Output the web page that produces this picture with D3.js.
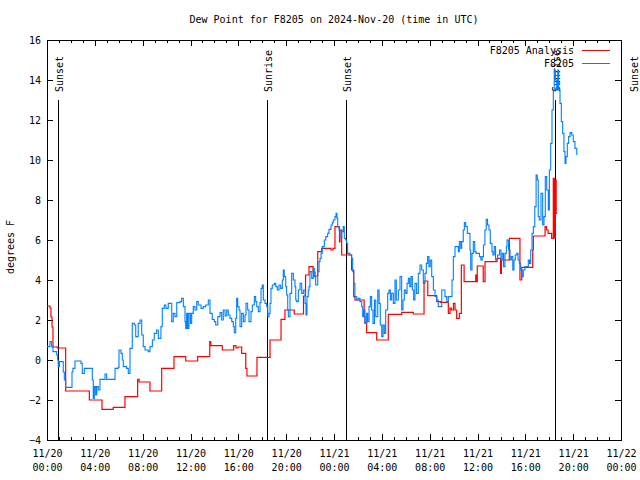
<!DOCTYPE html>
<html><head><meta charset="utf-8">
<script src="https://cdn.jsdelivr.net/npm/d3@7"></script>
<style>body{margin:0;background:#fff}svg{display:block}text{font-family:"DejaVu Sans Mono","Liberation Mono",monospace;font-size:10px;fill:#000}</style>
</head><body><svg id="c" width="640" height="480"></svg>
<script>
// ---- data (hours after 2024-11-20 00:00 UTC, dew point °F) ----
const titleText = "Dew Point for F8205 on 2024-Nov-20 (time in UTC)";
const yLabel = "degrees F";
const seriesNames = ["F8205 Analysis", "F8205"];
const yTicks = [-4, -2, 0, 2, 4, 6, 8, 10, 12, 14, 16];
const xTickHours = [0, 4, 8, 12, 16, 20, 24, 28, 32, 36, 40, 44, 48];
const sunNames = ["Sunset", "Sunrise", "Sunset", "Sunrise", "Sunset"];
const sunHours = [0.92, 18.4, 25.0, 42.48, 49.0];

const analysisHours = [0.00,0.25,0.33,0.42,0.50,0.86,1.56,3.54,4.60,5.54,6.52,7.58,7.70,8.61,9.59,10.62,11.60,12.60,13.61,13.69,14.66,15.61,15.80,15.97,16.28,16.62,16.72,17.56,18.65,19.57,19.90,20.68,21.45,21.62,21.91,22.25,22.41,22.64,22.97,23.75,23.92,24.08,24.46,24.50,24.64,25.47,25.65,25.75,26.52,26.59,26.73,27.57,28.54,29.66,30.63,31.53,31.84,32.59,32.90,33.56,33.70,33.82,33.99,34.12,34.26,34.48,34.65,34.88,35.85,35.91,35.98,36.48,36.63,37.63,37.93,38.00,38.66,39.55,39.70,40.62,40.67,41.65,41.77,41.90,42.20,42.34,42.42,42.51,42.58,42.66];
const analysisValues = [2.7,2.6,2.15,1.65,0.65,0.6,-1.55,-2.0,-2.47,-2.37,-1.83,-0.97,-1.1,-1.55,-0.42,0.17,-0.05,0.17,0.92,0.72,0.5,0.72,0.6,0.65,0.33,-0.42,-0.8,0.13,1.0,2.03,2.5,2.3,3.2,4.25,4.67,4.4,4.2,5.42,5.58,5.5,5.58,6.67,5.9,6.5,5.25,4.5,3.17,3.0,2.17,1.87,1.37,1.0,2.28,2.38,2.3,3.95,3.22,2.92,2.88,2.33,2.6,2.5,2.83,2.5,2.08,2.33,4.75,3.92,4.25,3.92,4.7,3.92,4.92,5.08,4.33,5.0,6.08,4.0,4.63,5.5,6.2,6.67,6.5,6.33,6.08,9.08,6.1,9.0,7.33,7.33];

const obsHours = [0.00,0.25,0.39,0.50,0.81,0.89,0.94,1.04,1.23,1.36,1.45,1.56,2.01,2.09,2.17,2.34,2.76,2.84,2.95,3.12,3.74,3.79,3.87,3.96,4.07,4.16,4.29,4.43,4.71,4.85,4.99,5.54,5.69,5.96,6.02,6.19,6.30,6.38,6.66,6.80,6.94,7.13,7.30,7.42,7.63,7.78,7.92,8.05,8.20,8.47,8.61,8.81,8.97,9.17,9.31,9.45,9.53,9.64,9.81,9.95,10.14,10.33,10.43,10.56,10.70,10.85,11.12,11.26,11.40,11.54,11.60,11.68,11.77,11.87,12.00,12.10,12.23,12.37,12.52,12.65,12.88,13.07,13.27,13.49,13.63,13.82,13.99,14.11,14.28,14.47,14.61,14.74,14.89,15.03,15.16,15.30,15.45,15.58,15.66,15.78,15.86,15.95,16.06,16.14,16.28,16.42,16.56,16.64,16.78,16.89,17.06,17.17,17.34,17.45,17.54,17.67,17.81,17.90,18.00,18.09,18.23,18.37,18.46,18.57,18.65,18.73,18.84,19.01,19.13,19.26,19.40,19.54,19.68,19.76,19.84,19.96,20.04,20.13,20.18,20.32,20.46,20.60,20.74,20.80,20.88,21.02,21.16,21.30,21.44,21.58,21.66,21.74,21.85,21.91,21.99,22.14,22.27,22.35,22.47,22.64,22.75,22.83,22.92,23.02,23.19,23.31,23.47,23.58,23.75,23.86,23.94,24.08,24.17,24.25,24.31,24.42,24.50,24.64,24.77,24.86,24.97,25.06,25.14,25.33,25.47,25.56,25.65,25.75,25.90,26.03,26.17,26.32,26.40,26.48,26.59,26.73,26.82,26.93,27.04,27.15,27.26,27.38,27.49,27.66,27.77,27.87,27.99,28.10,28.21,28.32,28.49,28.60,28.71,28.82,28.96,29.10,29.21,29.38,29.52,29.66,29.77,29.88,30.00,30.11,30.22,30.33,30.44,30.55,30.66,30.77,30.91,31.05,31.19,31.33,31.47,31.61,31.72,31.83,31.94,32.05,32.17,32.31,32.45,32.59,32.72,32.86,33.01,33.20,33.28,33.43,33.56,33.78,33.87,33.98,34.12,34.29,34.40,34.48,34.60,34.68,34.81,34.90,35.01,35.15,35.26,35.37,35.43,35.54,35.65,35.77,35.88,35.99,36.16,36.28,36.39,36.50,36.62,36.73,36.84,36.96,37.07,37.21,37.29,37.40,37.51,37.68,37.84,37.96,38.07,38.18,38.30,38.41,38.47,38.60,38.72,38.83,38.95,39.05,39.16,39.28,39.39,39.50,39.61,39.72,39.83,39.97,40.12,40.25,40.35,40.45,40.56,40.67,40.79,40.90,41.00,41.08,41.17,41.31,41.45,41.56,41.67,41.79,41.92,42.01,42.12,42.23,42.34,42.42,42.51,42.62,42.71,42.79,42.90,43.01,43.12,43.23,43.32,43.40,43.51,43.62,43.74,43.88,44.01,44.15,44.30];
const obsValues = [0.67,0.92,0.67,0.42,0.25,0.0,-0.33,-0.08,-0.08,-0.6,-1.0,-1.37,-1.37,-0.6,-0.42,-0.05,-0.05,-0.17,-0.67,-0.42,-0.42,-1.0,-1.92,-1.33,-1.75,-1.33,-1.5,-0.97,-0.97,-0.7,-0.97,-0.97,-0.42,-0.37,0.5,0.33,0.0,-0.33,-0.42,-0.67,0.58,1.83,1.75,1.17,1.83,2.0,1.25,0.67,0.5,0.42,0.67,1.0,1.33,1.5,1.08,1.08,1.67,2.58,2.75,2.58,2.83,2.83,1.92,2.33,2.17,2.87,2.92,3.08,2.67,1.92,1.58,2.33,1.58,2.33,1.83,2.33,2.67,2.5,2.92,2.75,2.58,2.67,2.75,3.0,2.33,2.03,1.92,1.75,2.17,2.37,2.0,2.5,2.2,2.5,2.25,2.08,1.92,1.67,1.37,2.08,3.08,2.67,2.5,1.67,2.33,1.92,2.25,2.83,2.5,1.92,2.42,2.75,3.17,2.92,2.67,2.42,2.87,3.58,3.75,3.0,2.83,2.67,2.17,2.33,2.83,3.58,3.75,3.83,3.67,3.5,3.75,3.58,4.0,4.5,4.17,3.67,3.25,2.5,2.17,3.33,4.33,4.0,3.67,3.0,2.92,3.5,3.83,3.33,3.5,2.83,2.25,3.17,3.5,3.67,4.42,4.08,4.58,4.17,3.75,4.42,4.92,5.08,5.33,5.67,6.0,6.17,6.33,6.53,6.75,6.87,7.0,7.17,7.33,7.08,6.67,6.5,6.17,6.42,6.67,6.08,6.0,5.83,5.33,5.25,5.08,4.42,3.83,3.17,3.0,3.08,2.92,2.67,2.17,2.5,1.83,2.33,1.92,2.67,3.17,2.5,1.83,3.0,2.17,3.5,2.83,1.75,1.17,1.75,1.33,2.5,3.33,3.5,3.0,3.33,2.83,4.0,3.0,3.5,4.17,2.5,3.0,3.5,3.33,3.83,4.08,3.67,4.17,3.5,3.0,3.83,3.33,4.33,4.75,4.5,3.83,4.33,4.83,5.17,4.67,5.0,4.17,3.5,3.17,3.0,2.67,2.67,3.5,3.5,3.17,2.92,3.17,3.17,4.0,5.17,5.67,5.67,5.42,5.92,5.58,5.92,6.5,6.87,6.67,6.33,6.33,5.5,4.5,5.33,5.92,5.42,5.33,5.33,5.17,5.0,5.17,5.75,6.5,7.03,6.75,6.5,5.83,5.42,5.25,5.67,5.0,5.25,5.5,5.0,5.33,4.67,5.33,5.67,6.0,5.5,5.0,5.17,4.5,5.0,5.25,5.33,5.0,4.83,4.5,4.17,4.5,4.67,4.67,5.0,4.83,5.5,6.33,6.67,7.67,9.25,9.0,7.17,7.0,8.33,6.75,7.17,9.17,8.5,7.5,9.5,10.83,12.5,13.5,14.5,14.0,13.5,14.5,13.5,12.83,11.92,11.33,10.42,9.83,10.17,10.83,11.17,11.37,11.25,10.92,10.58,10.25];

// ---- layout ----
const L = 47, R = 621, T = 40, B = 440;
const base = Date.UTC(2024, 10, 20);
const toDate = h => new Date(base + h * 3600e3);
const x = d3.scaleUtc().domain([toDate(0), toDate(48)]).range([L, R]);
const y = d3.scaleLinear().domain([-4, 16]).range([B, T]);
const svg = d3.select("#c");

// title & y label
svg.append("text").attr("x", 334).attr("y", 23).attr("text-anchor", "middle").text(titleText);
svg.append("text").attr("transform", "translate(14,247) rotate(-90)").attr("text-anchor", "middle").text(yLabel);

// axes with inward ticks
const fmtD = d3.utcFormat("%m/%d"), fmtT = d3.utcFormat("%H:%M");
const minorTicks = d3.range(0, 49).map(toDate);
const majorTicks = xTickHours.map(toDate);
svg.append("g").attr("transform", `translate(0,${B})`)
  .call(d3.axisBottom(x).tickValues(minorTicks).tickSize(-3).tickFormat(""));
const gBM = svg.append("g").attr("transform", `translate(0,${B})`)
  .call(d3.axisBottom(x).tickValues(majorTicks).tickSize(-6).tickFormat(""));
gBM.selectAll(".tick").append("text").attr("y", 17).attr("text-anchor", "middle")
  .each(function(d){
    const t = d3.select(this);
    t.append("tspan").attr("x", 0).attr("dy", 0).text(fmtD(d));
    t.append("tspan").attr("x", 0).attr("dy", 14).text(fmtT(d));
  });
svg.append("g").attr("transform", `translate(0,${T})`)
  .call(d3.axisTop(x).tickValues(minorTicks).tickSize(-3).tickFormat(""));
svg.append("g").attr("transform", `translate(0,${T})`)
  .call(d3.axisTop(x).tickValues(majorTicks).tickSize(-6).tickFormat(""));
svg.append("g").attr("transform", `translate(${L},0)`)
  .call(d3.axisLeft(y).tickValues(yTicks).tickSize(-6).tickPadding(6).tickFormat(d3.format("d")));
svg.append("g").attr("transform", `translate(${R},0)`)
  .call(d3.axisRight(y).tickValues(yTicks).tickSize(-6).tickFormat(""));
svg.selectAll(".domain").remove();
svg.selectAll(".tick line").attr("stroke", "#000").attr("shape-rendering", "crispEdges");
svg.selectAll(".tick text").attr("font-family", null).attr("font-size", null).attr("fill", "#000");

// border
svg.append("rect").attr("x", L + 0.5).attr("y", T + 0.5).attr("width", R - L).attr("height", B - T)
  .attr("fill", "none").attr("stroke", "#000").attr("stroke-width", 1).attr("shape-rendering", "crispEdges");

// sun events
sunHours.forEach((h, i) => {
  const px = Math.round(x(toDate(h))) + 0.5;
  if (px < R) svg.append("line").attr("x1", px).attr("x2", px).attr("y1", 100).attr("y2", B)
    .attr("stroke", "#000").attr("stroke-width", 1).attr("shape-rendering", "crispEdges");
  svg.append("text").attr("transform", `translate(${px + 4},92) rotate(-90)`)
    .attr("text-anchor", "start").text(sunNames[i]);
});

// series
svg.append("clipPath").attr("id", "pc").append("rect")
  .attr("x", L).attr("y", T).attr("width", R - L).attr("height", B - T);
const line = d3.line().x(d => x(toDate(d[0]))).y(d => y(d[1])).curve(d3.curveStepAfter);
const redData = analysisHours.map((h, i) => [h, analysisValues[i]]);
const blueData = obsHours.map((h, i) => [h, obsValues[i]]);
svg.append("path").attr("clip-path", "url(#pc)").datum(redData).attr("d", line)
  .attr("fill", "none").attr("stroke", "#ff0000").attr("stroke-width", 1.2);
svg.append("path").attr("clip-path", "url(#pc)").datum(blueData).attr("d", line)
  .attr("fill", "none").attr("stroke", "#0080ff").attr("stroke-width", 1.1);

// legend
const legColors = ["#ff0000", "#0080ff"];
seriesNames.forEach((n, i) => {
  const ly = 50 + i * 13;
  svg.append("text").attr("x", 574).attr("y", ly + 3.5).attr("text-anchor", "end").text(n);
  svg.append("line").attr("x1", 582).attr("x2", 610).attr("y1", ly + 0.5).attr("y2", ly + 0.5)
    .attr("stroke", legColors[i]).attr("stroke-width", 1).attr("shape-rendering", "crispEdges");
});
</script></body></html>
